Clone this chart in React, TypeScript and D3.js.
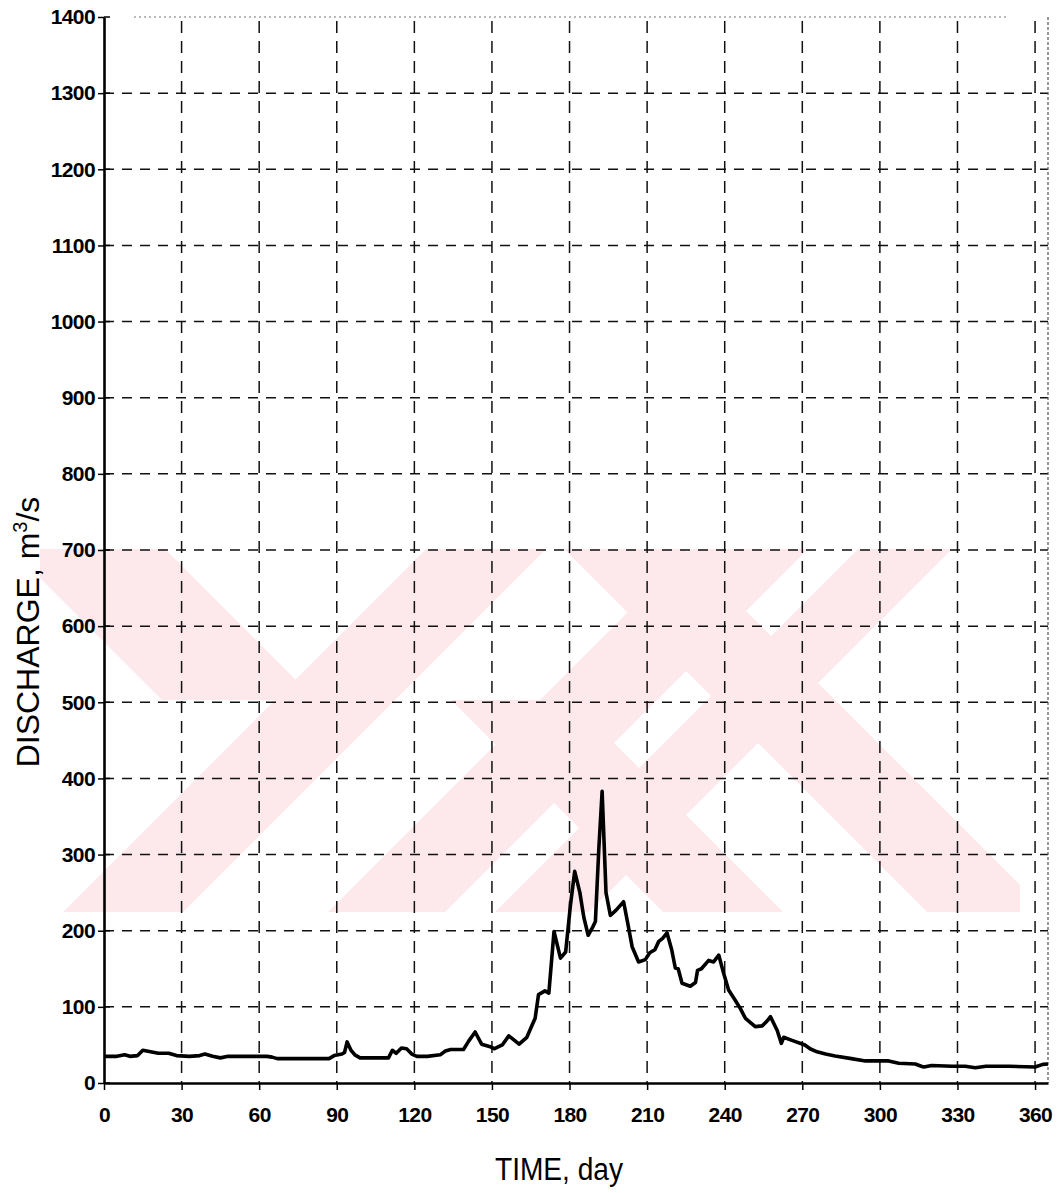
import React, { useRef, useEffect } from "react";
import * as d3 from "d3";

// day of year / discharge (m3/s)
const days = [
  0, 5, 8, 10, 13, 15, 18, 21, 25, 28, 33, 37, 39, 42, 45, 48, 55, 63, 65, 67,
  75, 87, 89, 92, 93, 94, 95.5, 97, 99, 105, 110, 111.5, 113, 115, 117, 119, 121,
  125, 130, 132, 134, 139, 141, 143.5, 146, 149, 151, 154, 156.5, 158, 160.5,
  163.5, 165, 166.7, 168, 170.5, 172, 174, 176.5, 178.5, 180.3, 182, 184, 185.5,
  187.2, 189, 190, 191.3, 192.6, 194.1, 195.8, 198, 200.9, 202.5, 204.2, 206.7,
  209.3, 211, 213, 214.5, 216, 217.7, 219.5, 220.9, 222, 223.5, 226.7, 228.7,
  229.5, 231, 233.8, 235.7, 237.7, 239.5, 241.5, 244, 246, 248, 251.8, 254.5,
  256, 257.7, 260.3, 261.9, 262.8, 266, 271, 273, 275.7, 279, 282.7, 289, 294.4,
  303.4, 307.3, 313.7, 316, 317, 320, 327.9, 333, 336.9, 341, 350, 360, 363, 365,
];
const discharge = [
  35, 35, 37, 35, 36, 43, 41, 39, 39, 36, 35, 36, 38, 35, 33, 35, 35, 35, 34, 32,
  32, 32, 36, 38, 40, 54, 43, 37, 33, 33, 33, 43, 39, 46, 45, 38, 35,
  35, 37, 42, 44, 44, 55, 67, 51, 48, 45, 50, 62, 58, 51,
  60, 72, 85, 116, 121, 118, 199, 164, 172, 232, 278, 250, 218,
  194, 205, 212, 306, 383, 250, 220, 227, 238, 210, 179, 159,
  162, 171, 175, 186, 190, 197, 175, 151, 150, 131, 127, 132,
  148, 150, 161, 159, 168, 145, 122, 109, 98, 85, 74, 75,
  80, 87, 69, 52, 60, 56, 50, 45, 41, 38, 35.5, 32, 29,
  29, 26, 25, 22, 21, 23, 22, 22, 20, 22, 22, 21, 24.5, 25,
];

const xTicks = [0, 30, 60, 90, 120, 150, 180, 210, 240, 270, 300, 330, 360];
const yTicks = [0, 100, 200, 300, 400, 500, 600, 700, 800, 900, 1000, 1100, 1200, 1300, 1400];

const W = 1058;
const H = 1193;
const left = 104;
const right = 1048;
const top = 17;
const bottom = 1083;

// pale watermark of the scanned page: 45-degree bands, given as
// [direction, edge1, edge2, yFrom, yTo]; "/" uses x+y, "\" uses y-x
const wmBands = [
  ["\\", 384, 538, 549, 700],
  ["/", 975, 1095, 549, 912],
  ["/", 1240, 1357, 549, 912],
  ["/", 1407, 1501, 549, 912],
  ["\\", -135, -15, 549, 912],
  ["\\", 129, 249, 700, 912],
];

const App = () => {
  const svgRef = useRef(null);

  useEffect(() => {
    const svg = d3.select(svgRef.current);
    svg.selectAll("*").remove();

    const x = d3.scaleLinear().domain([0, 365]).range([left, right]);
    const y = d3.scaleLinear().domain([0, 1400]).range([bottom, top]);

    svg.append("rect").attr("width", W).attr("height", H).attr("fill", "#fff");

    const defs = svg.append("defs");
    defs.append("clipPath").attr("id", "wmclip")
      .append("rect").attr("x", 40).attr("y", 549).attr("width", 980).attr("height", 363);

    const bandPts = ([dir, a, b, y0, y1]) => {
      const px = (c, yy) => (dir === "/" ? c - yy : yy - c);
      return [
        [px(a, y0), y0], [px(b, y0), y0], [px(b, y1), y1], [px(a, y1), y1],
      ].map((p) => p.join(",")).join(" ");
    };
    svg.append("g")
      .attr("clip-path", "url(#wmclip)")
      .selectAll("polygon")
      .data(wmBands)
      .join("polygon")
      .attr("points", bandPts)
      .attr("fill", "#fde9ec");

    // grid
    svg.append("g")
      .selectAll("line")
      .data(yTicks.filter((v) => v > 0 && v < 1400))
      .join("line")
      .attr("x1", left)
      .attr("x2", right)
      .attr("y1", (d) => y(d))
      .attr("y2", (d) => y(d))
      .attr("stroke", "#111")
      .attr("stroke-width", 1.5)
      .attr("stroke-dasharray", "10,8");

    svg.append("g")
      .selectAll("line")
      .data(xTicks.filter((v) => v > 0))
      .join("line")
      .attr("x1", (d) => x(d))
      .attr("x2", (d) => x(d))
      .attr("y1", top + 4)
      .attr("y2", bottom)
      .attr("stroke", "#111")
      .attr("stroke-width", 1.5)
      .attr("stroke-dasharray", "12,8");

    // top and right frame (faint, dotted)
    svg.append("line")
      .attr("x1", left + 30).attr("x2", right - 40)
      .attr("y1", top).attr("y2", top)
      .attr("stroke", "#777").attr("stroke-width", 1.2)
      .attr("stroke-dasharray", "2,3");
    svg.append("line")
      .attr("x1", right).attr("x2", right)
      .attr("y1", top).attr("y2", bottom)
      .attr("stroke", "#555").attr("stroke-width", 1.2)
      .attr("stroke-dasharray", "3,2");

    // hydrograph
    const pts = days.map((d, i) => [d, discharge[i]]);
    const line = d3.line()
      .x((d) => x(d[0]))
      .y((d) => y(d[1]));
    svg.append("path")
      .datum(pts)
      .attr("d", line)
      .attr("fill", "none")
      .attr("stroke", "#000")
      .attr("stroke-width", 3.6)
      .attr("stroke-linejoin", "round");

    // axes
    const font = "'Liberation Sans', Arial, sans-serif";
    const yAxis = svg.append("g")
      .attr("transform", `translate(${left},0)`)
      .call(d3.axisLeft(y).tickValues(yTicks).tickFormat(d3.format("d"))
        .tickSize(6).tickSizeOuter(0).tickPadding(3));
    yAxis.selectAll("line.inner")
      .data(yTicks)
      .join("line")
      .attr("class", "inner")
      .attr("x1", 0).attr("x2", 6)
      .attr("y1", (d) => y(d)).attr("y2", (d) => y(d))
      .attr("stroke", "#000").attr("stroke-width", 1.5);

    const xAxis = svg.append("g")
      .attr("transform", `translate(0,${bottom})`)
      .call(d3.axisBottom(x).tickValues(xTicks).tickFormat(d3.format("d"))
        .tickSize(7).tickSizeOuter(0).tickPadding(17));

    [yAxis, xAxis].forEach((g) => {
      g.select(".domain").attr("stroke", "#000").attr("stroke-width", 2.6);
      g.selectAll(".tick line").attr("stroke", "#000").attr("stroke-width", 1.5);
      g.selectAll(".tick text")
        .attr("fill", "#000")
        .style("font-family", font)
        .style("font-size", "21px")
        .style("font-weight", "bold")
        .style("letter-spacing", "-0.6px");
    });

    svg.append("text")
      .attr("x", 559)
      .attr("y", 1180)
      .attr("text-anchor", "middle")
      .attr("textLength", 128)
      .attr("lengthAdjust", "spacingAndGlyphs")
      .style("font-family", font)
      .style("font-size", "31px")
      .text("TIME, day");

    const yl = svg.append("text")
      .attr("transform", "translate(39,632) rotate(-90)")
      .attr("text-anchor", "middle")
      .style("font-family", font)
      .style("font-size", "32px");
    yl.append("tspan").text("DISCHARGE, m");
    yl.append("tspan").attr("dy", -12).style("font-size", "20px").text("3");
    yl.append("tspan").attr("dy", 12).text("/s");
  }, []);

  return (
    <svg
      ref={svgRef}
      width={W}
      height={H}
      style={{ position: "absolute", left: 0, top: 0, display: "block" }}
    />
  );
};

export default App;
